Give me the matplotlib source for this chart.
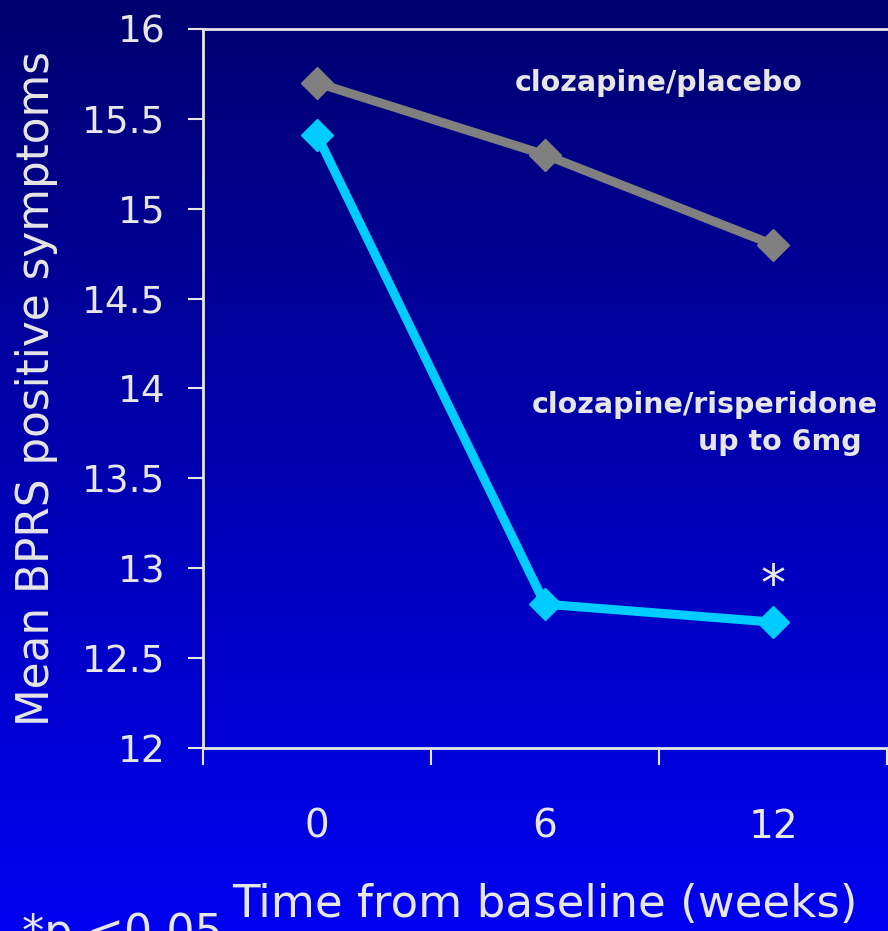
import numpy as np
import matplotlib
matplotlib.use("Agg")
import matplotlib.pyplot as plt
from matplotlib.colors import LinearSegmentedColormap

# данные
weeks = ["0", "6", "12"]
placebo = [15.7, 15.3, 14.8]
risperidone = [15.41, 12.8, 12.7]
y_ticks = [12, 12.5, 13, 13.5, 14, 14.5, 15, 15.5, 16]

txt_col = "#E6E6E6"
plt.rcParams["font.family"] = "DejaVu Sans"

fig = plt.figure(figsize=(8.88, 9.31), dpi=100)

# градиентный фон
bg = fig.add_axes([0, 0, 1, 1], zorder=0)
cmap = LinearSegmentedColormap.from_list("bg", ["#000070", "#0000F2"])
grad = np.linspace(0, 1, 256).reshape(-1, 1)
bg.imshow(grad, aspect="auto", cmap=cmap, extent=[0, 1, 0, 1], origin="upper")
bg.axis("off")

ax = fig.add_axes([0.2286, 0.1966, 0.7703, 0.7723], zorder=1)
ax.set_facecolor("none")

x = np.arange(len(weeks))
ax.plot(x, placebo, color="#808080", lw=6.5, marker="D", ms=16.5, zorder=3)
ax.plot(x, risperidone, color="#00CCFF", lw=6.5, marker="D", ms=16.5, zorder=3)

ax.set_xlim(-0.5, 2.5)
ax.set_ylim(12, 16)
ax.set_yticks(y_ticks)
ax.set_yticklabels([f"{v:g}" for v in y_ticks])
ax.set_xticks(x)
ax.set_xticklabels(weeks)
ax.set_xticks([-0.5, 0.5, 1.5, 2.5], minor=True)

ax.tick_params(axis="y", colors=txt_col, labelsize=27, length=11, width=1.5,
               direction="out", pad=16)
ax.tick_params(axis="x", which="major", colors=txt_col, labelsize=28, length=0, pad=43)
ax.tick_params(axis="x", which="minor", colors=txt_col, length=12, width=1.5,
               direction="out")

for s in ["left", "bottom", "top"]:
    ax.spines[s].set_color(txt_col)
    ax.spines[s].set_linewidth(2)
ax.spines["right"].set_visible(False)

ax.set_ylabel("Mean BPRS positive symptoms", color=txt_col, fontsize=31.5)
ax.yaxis.set_label_coords(-0.212, 0.5)
ax.set_xlabel("Time from baseline (weeks)", color=txt_col, fontsize=32.5)
ax.xaxis.set_label_coords(0.5, -0.188)

# подписи серий
ax.text(1.5, 15.7, "clozapine/placebo", color=txt_col, fontsize=20.5,
        fontweight="bold", ha="center", va="center")
ax.text(1.70, 13.91, "clozapine/risperidone", color=txt_col, fontsize=20.5,
        fontweight="bold", ha="center", va="center")
ax.text(2.03, 13.70, "up to 6mg", color=txt_col, fontsize=20.5,
        fontweight="bold", ha="center", va="center")
ax.text(2.0, 12.9, "*", color=txt_col, fontsize=36, ha="center", va="center")

fig.text(22 / 888, 1 - 912 / 931, "*p <0.05", color=txt_col, fontsize=32,
         ha="left", va="top")

fig.savefig("out.png", dpi=100)
